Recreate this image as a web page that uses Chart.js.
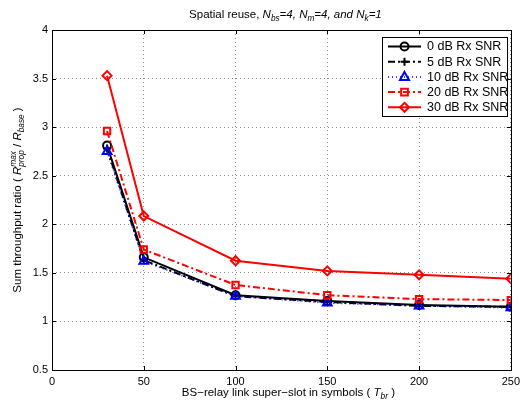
<!DOCTYPE html>
<html>
<head>
<meta charset="utf-8">
<script src="https://cdn.jsdelivr.net/npm/chart.js@4/dist/chart.umd.min.js"></script>
<style>
  html, body { margin: 0; padding: 0; background: #fff; }
</style>
</head>
<body>
<canvas id="myChart" width="525" height="405"></canvas>
<script>
// BS-relay link super-slot (T_br) and throughput ratios
const xValues = [30, 50, 100, 150, 200, 250];
const snr0 = [2.81, 1.66, 1.27, 1.21, 1.17, 1.15];
const snr5 = [2.78, 1.63, 1.26, 1.20, 1.16, 1.15];
const snr10 = [2.75, 1.62, 1.26, 1.19, 1.16, 1.14];
const snr20 = [2.96, 1.74, 1.375, 1.27, 1.23, 1.22];
const snr30 = [3.53, 2.085, 1.625, 1.52, 1.48, 1.44];
const seriesLabels = ['0 dB Rx SNR', '5 dB Rx SNR', '10 dB Rx SNR', '20 dB Rx SNR', '30 dB Rx SNR'];
const xTicks = [0, 50, 100, 150, 200, 250];
const yTicks = [0.5, 1, 1.5, 2, 2.5, 3, 3.5, 4];

const FONT = "'Liberation Sans', Arial, Helvetica, sans-serif";

const styles = [
  { color: '#000000', dash: [], width: 2, point: 'circle', r: 4 },
  { color: '#000000', dash: [7, 3, 2, 3], width: 2, point: 'cross', r: 4 },
  { color: '#0000ff', dash: [1, 3], width: 1.5, point: 'triangle', r: 5 },
  { color: '#ff0000', dash: [7, 3, 2, 3], width: 2, point: 'rect', r: 4.5 },
  { color: '#ff0000', dash: [], width: 2, point: 'rectRot', r: 4.5 }
];

const allSeries = [snr0, snr5, snr10, snr20, snr30];

const datasets = allSeries.map((vals, i) => ({
  label: seriesLabels[i],
  data: xValues.map((x, j) => ({ x: x, y: vals[j] })),
  borderColor: styles[i].color,
  borderWidth: styles[i].width,
  borderDash: styles[i].dash,
  pointStyle: styles[i].point,
  pointRadius: styles[i].r,
  pointBorderWidth: 2,
  pointBorderColor: styles[i].color,
  pointBackgroundColor: 'rgba(0,0,0,0)',
  tension: 0,
  fill: false,
  order: 5 - i
}));

// rich text with italic / sub / super pieces (MATLAB tex style)
function segFont(s, size) {
  const sz = (s.sub || s.sup || s.stack) ? size * 0.72 : size;
  return (s.it || s.stack ? 'italic ' : '') + sz + 'px ' + FONT;
}
function segWidth(ctx, s, size) {
  ctx.font = segFont(s, size);
  if (s.stack) return Math.max(ctx.measureText(s.stack[0]).width, ctx.measureText(s.stack[1]).width);
  return ctx.measureText(s.t).width;
}
function drawRich(ctx, segs, x, y, size) {
  let total = 0;
  segs.forEach(s => total += segWidth(ctx, s, size));
  let cx = x - total / 2;
  ctx.textBaseline = 'alphabetic';
  ctx.textAlign = 'left';
  segs.forEach(s => {
    const w = segWidth(ctx, s, size);
    ctx.font = segFont(s, size);
    if (s.stack) {
      ctx.fillText(s.stack[0], cx, y - size * 0.42);
      ctx.fillText(s.stack[1], cx, y + size * 0.3);
    } else {
      const dy = s.sub ? size * 0.3 : (s.sup ? -size * 0.42 : 0);
      ctx.fillText(s.t, cx, y + dy);
    }
    cx += w;
  });
}

const titleSegs = [
  { t: 'Spatial reuse, ' }, { t: 'N', it: 1 }, { t: 'bs', it: 1, sub: 1 }, { t: '=4, ', it: 1 },
  { t: 'N', it: 1 }, { t: 'm', it: 1, sub: 1 }, { t: '=4, and ', it: 1 },
  { t: 'N', it: 1 }, { t: 'k', it: 1, sub: 1 }, { t: '=1', it: 1 }
];
const xLabelSegs = [
  { t: 'BS\u2212relay link super\u2212slot in symbols ( ' }, { t: 'T', it: 1 }, { t: 'br', it: 1, sub: 1 }, { t: ' )' }
];
const yLabelSegs = [
  { t: 'Sum throughput ratio ( ' }, { t: 'R', it: 1 }, { stack: ['max', 'prop'] }, { t: ' / ' },
  { t: 'R', it: 1 }, { t: 'base', it: 1, sub: 1 }, { t: ' )' }
];

function marker(ctx, st, x, y) {
  ctx.save();
  ctx.setLineDash([]);
  ctx.strokeStyle = st.color;
  ctx.lineWidth = 2;
  const r = st.r;
  ctx.beginPath();
  if (st.point === 'circle') ctx.arc(x, y, r, 0, Math.PI * 2);
  else if (st.point === 'cross') { ctx.moveTo(x - r, y); ctx.lineTo(x + r, y); ctx.moveTo(x, y - r); ctx.lineTo(x, y + r); }
  else if (st.point === 'triangle') { ctx.moveTo(x, y - r); ctx.lineTo(x + r * 0.9, y + r * 0.6); ctx.lineTo(x - r * 0.9, y + r * 0.6); ctx.closePath(); }
  else if (st.point === 'rect') ctx.rect(x - r * 0.75, y - r * 0.75, r * 1.5, r * 1.5);
  else if (st.point === 'rectRot') { ctx.moveTo(x, y - r); ctx.lineTo(x + r, y); ctx.lineTo(x, y + r); ctx.lineTo(x - r, y); ctx.closePath(); }
  ctx.stroke();
  ctx.restore();
}

const matlabFrame = {
  id: 'matlabFrame',
  afterDraw(chart) {
    const ctx = chart.ctx;
    const a = chart.chartArea;
    const xs = chart.scales.x, ys = chart.scales.y;
    ctx.save();
    // box
    ctx.strokeStyle = '#000';
    ctx.lineWidth = 1;
    ctx.setLineDash([]);
    ctx.strokeRect(Math.round(a.left) + 0.5, Math.round(a.top) + 0.5, Math.round(a.right - a.left), Math.round(a.bottom - a.top));
    // inward ticks
    ctx.beginPath();
    xTicks.forEach(v => {
      const px = Math.round(xs.getPixelForValue(v)) + 0.5;
      ctx.moveTo(px, a.bottom); ctx.lineTo(px, a.bottom - 4);
      ctx.moveTo(px, a.top); ctx.lineTo(px, a.top + 4);
    });
    yTicks.forEach(v => {
      const py = Math.round(ys.getPixelForValue(v)) + 0.5;
      ctx.moveTo(a.left, py); ctx.lineTo(a.left + 4, py);
      ctx.moveTo(a.right, py); ctx.lineTo(a.right - 4, py);
    });
    ctx.stroke();

    ctx.fillStyle = '#000';
    drawRich(ctx, titleSegs, (a.left + a.right) / 2 + 4, 18, 11.5);
    drawRich(ctx, xLabelSegs, (a.left + a.right) / 2 + 7, 396, 11.5);
    ctx.save();
    ctx.translate(21, (a.top + a.bottom) / 2);
    ctx.rotate(-Math.PI / 2);
    drawRich(ctx, yLabelSegs, 0, 0, 11.5);
    ctx.restore();

    // legend
    const lx = 382, ly = 37, lw = 125, lh = 79;
    ctx.fillStyle = '#fff';
    ctx.fillRect(lx, ly, lw, lh);
    ctx.strokeStyle = '#000';
    ctx.lineWidth = 1;
    ctx.strokeRect(lx + 0.5, ly + 0.5, lw, lh);
    seriesLabels.forEach((lab, i) => {
      const st = styles[i];
      const y = 46.5 + i * 15.2;
      ctx.save();
      ctx.strokeStyle = st.color;
      ctx.lineWidth = st.width;
      ctx.setLineDash(st.dash);
      ctx.beginPath();
      ctx.moveTo(388, y); ctx.lineTo(421, y);
      ctx.stroke();
      ctx.restore();
      marker(ctx, st, 404.5, y);
      ctx.fillStyle = '#000';
      ctx.font = '12.5px ' + FONT;
      ctx.textAlign = 'left';
      ctx.textBaseline = 'middle';
      ctx.fillText(lab, 427, y + 0.5);
    });
    ctx.restore();
  }
};

new Chart(document.getElementById('myChart'), {
  type: 'line',
  data: { datasets: datasets },
  options: {
    responsive: false,
    animation: false,
    devicePixelRatio: 1,
    layout: { padding: { top: 30, right: 14, left: 0, bottom: 0 } },
    plugins: { legend: { display: false }, tooltip: { enabled: false }, title: { display: false } },
    scales: {
      x: {
        type: 'linear', min: 0, max: 250,
        afterFit: s => { s.height = 35; },
        afterBuildTicks: s => { s.ticks = xTicks.map(v => ({ value: v })); },
        ticks: { autoSkip: false, maxRotation: 0, padding: 5, color: '#000', font: { family: FONT, size: 11 }, callback: v => String(v) },
        grid: { color: '#8c8c8c', lineWidth: 1, drawTicks: false },
        border: { display: false, dash: [1, 3] }
      },
      y: {
        type: 'linear', min: 0.5, max: 4,
        afterFit: s => { s.width = 52; },
        afterBuildTicks: s => { s.ticks = yTicks.map(v => ({ value: v })); },
        ticks: { autoSkip: false, padding: 4, color: '#000', font: { family: FONT, size: 11 }, callback: v => String(v) },
        grid: { color: '#8c8c8c', lineWidth: 1, drawTicks: false },
        border: { display: false, dash: [1, 3] }
      }
    }
  },
  plugins: [matlabFrame]
});
</script>
</body>
</html>
